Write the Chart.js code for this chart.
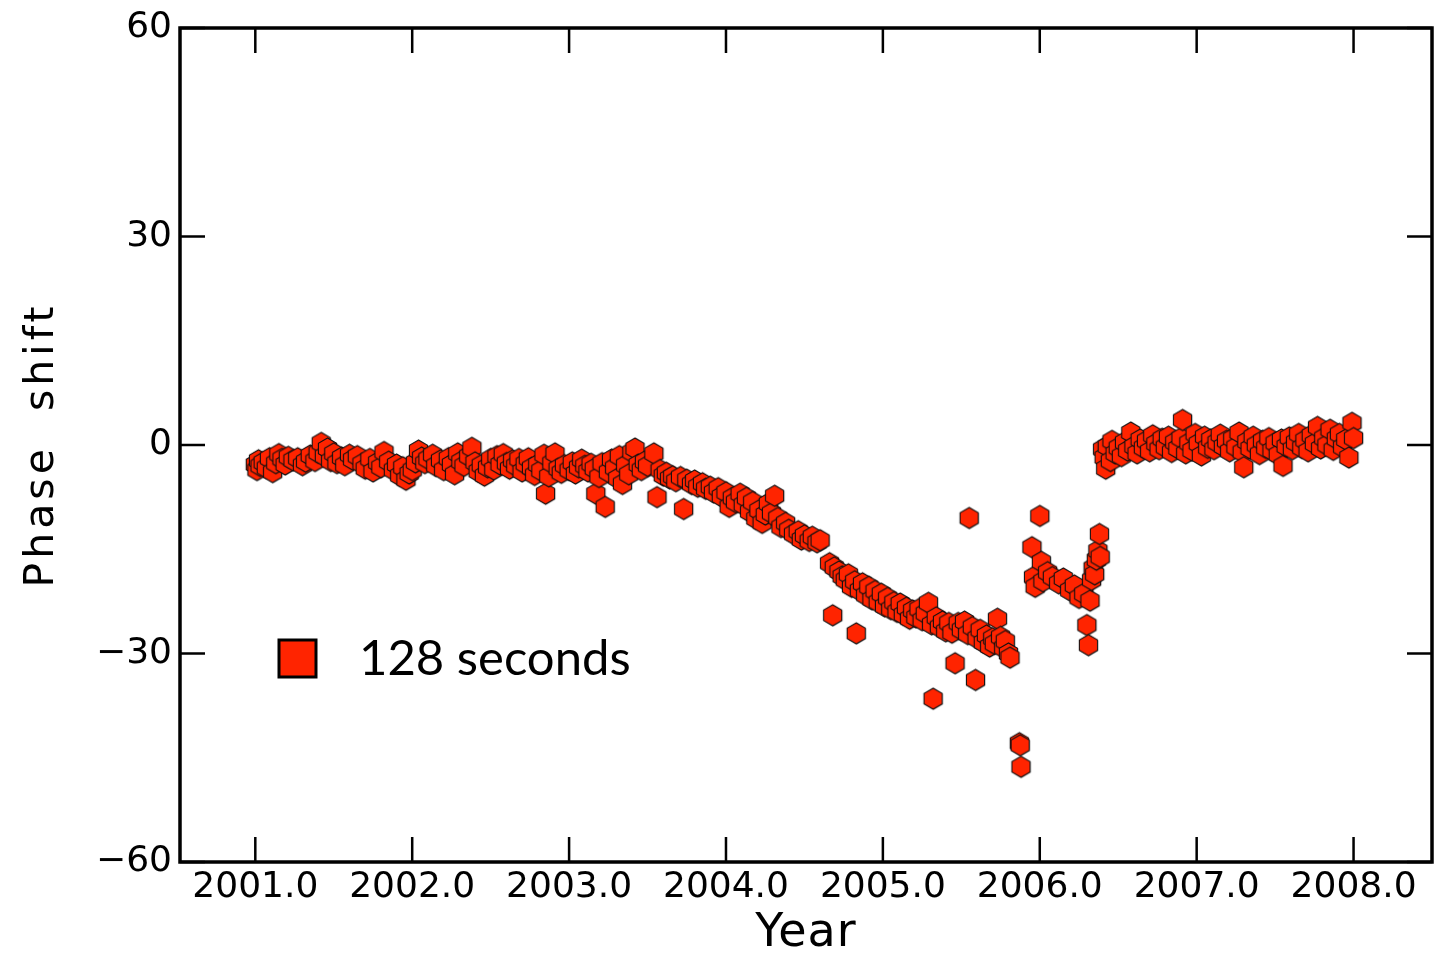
<!DOCTYPE html>
<html><head><meta charset="utf-8">
<script src="https://cdn.jsdelivr.net/npm/chart.js@4"></script>
<style>html,body{margin:0;padding:0;background:#fff;}canvas{display:block;}</style>
</head><body>
<canvas id="c" width="1437" height="955"></canvas>
<script>
const years = [
2001.00,2001.01,2001.02,2001.03,2001.05,2001.07,2001.09,2001.11,2001.13,2001.15,2001.17,2001.19,2001.21,2001.24,2001.27,2001.30,2001.32,2001.35,2001.38,2001.40,
2001.42,2001.44,2001.46,2001.48,2001.50,2001.52,2001.55,2001.57,2001.60,2001.62,2001.65,2001.68,2001.70,2001.73,2001.75,2001.78,2001.80,2001.82,2001.85,2001.88,
2001.90,2001.92,2001.94,2001.96,2001.98,2002.00,2002.02,2002.04,2002.06,2002.08,2002.10,2002.13,2002.15,2002.18,2002.20,2002.23,2002.25,2002.27,2002.29,2002.31,
2002.33,2002.36,2002.38,2002.40,2002.42,2002.44,2002.46,2002.48,2002.50,2002.52,2002.54,2002.56,2002.58,2002.60,2002.62,2002.64,2002.66,2002.68,2002.70,2002.72,
2002.74,2002.76,2002.78,2002.80,2002.82,2002.84,2002.85,2002.87,2002.89,2002.91,2002.93,2002.95,2002.97,2003.00,2003.02,2003.04,2003.06,2003.08,2003.10,2003.12,
2003.14,2003.16,2003.17,2003.19,2003.21,2003.23,2003.25,2003.27,2003.29,2003.31,2003.32,2003.34,2003.36,2003.38,2003.40,2003.42,2003.44,2003.46,2003.48,2003.50,
2003.54,2003.56,2003.58,2003.60,2003.62,2003.64,2003.66,2003.68,2003.71,2003.73,2003.75,2003.78,2003.80,2003.82,2003.85,2003.87,2003.90,2003.92,2003.95,2003.97,
2004.00,2004.02,2004.04,2004.06,2004.09,2004.11,2004.13,2004.15,2004.17,2004.19,2004.21,2004.23,2004.25,2004.27,2004.29,2004.31,2004.33,2004.35,2004.38,2004.40,
2004.43,2004.46,2004.48,2004.50,2004.53,2004.55,2004.58,2004.60,2004.66,2004.68,2004.69,2004.72,2004.74,2004.76,2004.78,2004.80,2004.82,2004.83,2004.85,2004.87,
2004.89,2004.91,2004.93,2004.95,2004.97,2004.99,2005.01,2005.03,2005.05,2005.07,2005.09,2005.11,2005.13,2005.15,2005.17,2005.19,2005.21,2005.23,2005.25,2005.27,
2005.29,2005.31,2005.32,2005.34,2005.36,2005.38,2005.40,2005.42,2005.44,2005.46,2005.48,2005.50,2005.52,2005.54,2005.55,2005.57,2005.59,2005.60,2005.62,2005.64,
2005.66,2005.68,2005.70,2005.71,2005.73,2005.75,2005.77,2005.78,2005.80,2005.81,2005.87,2005.875,2005.88,2005.95,2005.96,2005.97,2006.00,2006.01,2006.02,2006.05,
2006.08,2006.12,2006.15,2006.19,2006.22,2006.25,2006.28,2006.30,2006.31,2006.32,2006.33,2006.34,2006.35,2006.36,2006.37,2006.38,2006.385,2006.40,2006.41,2006.42,
2006.43,2006.45,2006.46,2006.48,2006.50,2006.52,2006.54,2006.56,2006.58,2006.60,2006.62,2006.64,2006.66,2006.68,2006.70,2006.72,2006.74,2006.76,2006.78,2006.80,
2006.82,2006.84,2006.86,2006.88,2006.90,2006.91,2006.93,2006.95,2006.97,2006.99,2007.01,2007.03,2007.05,2007.07,2007.09,2007.11,2007.13,2007.15,2007.17,2007.19,
2007.21,2007.23,2007.25,2007.27,2007.29,2007.30,2007.32,2007.34,2007.36,2007.38,2007.40,2007.42,2007.44,2007.46,2007.48,2007.50,2007.52,2007.54,2007.55,2007.57,
2007.59,2007.61,2007.63,2007.65,2007.67,2007.69,2007.71,2007.73,2007.75,2007.77,2007.79,2007.81,2007.83,2007.85,2007.87,2007.89,2007.91,2007.93,2007.95,2007.97,
2007.99,2008.00
];
const phase = [
-2.8,-3.6,-2.2,-3.0,-2.5,-3.3,-1.9,-3.9,-2.6,-1.3,-2.0,-2.8,-1.7,-2.2,-1.9,-2.9,-2.4,-1.5,-2.3,-1.1,
0.3,-1.6,-0.5,-2.3,-1.2,-2.6,-1.8,-2.9,-1.4,-2.1,-1.6,-2.7,-3.4,-2.0,-3.8,-2.5,-3.2,-1.0,-2.4,-3.6,
-2.8,-4.4,-3.2,-5.0,-4.1,-3.6,-2.5,-0.8,-1.8,-2.6,-2.0,-1.4,-3.0,-2.2,-3.6,-1.9,-2.8,-4.2,-1.2,-2.4,
-3.0,-1.6,-0.4,-2.5,-3.8,-2.9,-4.4,-3.2,-2.0,-3.5,-1.6,-2.8,-1.3,-2.6,-3.4,-2.2,-3.0,-2.0,-3.8,-2.7,
-1.9,-3.3,-4.3,-2.8,-3.7,-1.4,-7.0,-4.5,-2.6,-1.2,-3.4,-4.0,-2.9,-3.6,-2.5,-4.1,-3.2,-2.1,-3.0,-3.8,
-2.7,-3.4,-7.0,-4.6,-2.6,-8.9,-3.9,-2.1,-3.3,-4.8,-1.6,-5.6,-2.9,-4.2,-1.0,-0.5,-2.8,-3.6,-2.4,-3.0,
-1.2,-7.5,-3.6,-4.4,-4.0,-4.8,-4.5,-5.2,-4.6,-9.2,-5.0,-5.6,-5.1,-6.0,-5.5,-6.3,-6.0,-6.8,-6.2,-7.4,
-6.8,-8.9,-7.6,-8.2,-7.0,-8.6,-7.6,-9.6,-8.2,-10.6,-9.4,-11.2,-10.0,-8.4,-9.8,-7.3,-10.5,-11.8,-11.2,-12.2,
-12.8,-12.4,-13.6,-13.0,-13.8,-13.2,-14.0,-13.7,-17.0,-24.5,-17.6,-18.2,-18.9,-19.4,-18.6,-20.4,-19.6,-27.1,-20.9,-19.9,
-21.6,-20.4,-22.2,-21.0,-22.6,-21.4,-23.2,-22.0,-23.6,-22.6,-24.0,-22.8,-24.4,-23.4,-25.0,-23.8,-24.8,-23.6,-25.2,-24.2,
-22.7,-25.8,-36.5,-24.8,-26.2,-25.4,-26.8,-25.6,-27.0,-31.4,-25.6,-26.6,-25.4,-27.2,-10.5,-26.2,-33.8,-27.8,-26.6,-28.4,
-27.4,-29.0,-27.8,-28.6,-25.0,-27.6,-29.2,-28.2,-30.0,-30.6,-42.9,-43.2,-46.3,-14.7,-19.0,-20.4,-10.2,-16.8,-19.6,-18.3,
-19.0,-19.9,-19.2,-20.9,-20.2,-22.0,-21.4,-25.9,-28.8,-22.4,-19.4,-17.7,-18.6,-16.5,-15.2,-12.8,-16.1,-0.6,-1.8,-3.4,
-0.2,-2.3,0.6,-1.2,-0.4,-1.6,0.4,-0.8,1.8,-0.2,-1.2,0.8,-0.4,0.6,-0.9,1.4,0.2,-0.6,0.9,-0.3,
1.2,-1.0,0.4,-0.5,1.0,3.6,-1.2,0.3,-0.8,1.6,0.2,-1.5,1.2,-0.4,0.8,-0.6,0.4,1.5,-0.2,0.6,
-0.9,0.9,-0.3,1.8,-1.0,-3.2,0.5,-0.5,1.2,0.0,-1.3,0.6,-0.4,1.0,-0.8,0.3,-1.4,0.8,-3.0,-0.2,
1.1,-0.6,0.4,1.6,-0.4,0.7,-0.9,1.4,0.2,2.6,-0.5,1.0,0.0,2.2,-0.7,0.9,1.6,-0.3,0.8,-1.8,
3.2,1.0
];
const yearTicks = [2001, 2002, 2003, 2004, 2005, 2006, 2007, 2008];
const phaseTicks = [-60, -30, 0, 30, 60];
const seriesLabel = '128 seconds';

const RED = '#ff2400';

function hexImage(r, fill) {
  const s = Math.ceil(2 * r + 4);
  const c = document.createElement('canvas');
  c.width = s; c.height = s;
  const g = c.getContext('2d');
  const cx = s / 2, cy = s / 2;
  const path = (dx, dy) => {
    g.beginPath();
    for (let i = 0; i < 6; i++) {
      const a = Math.PI / 2 + i * Math.PI / 3;
      const x = cx + dx + r * Math.cos(a), y = cy + dy - r * Math.sin(a);
      if (i) g.lineTo(x, y); else g.moveTo(x, y);
    }
    g.closePath();
  };
  path(0.8, 0.8); g.fillStyle = 'rgba(0,0,0,0.25)'; g.fill();
  path(0, 0); g.fillStyle = fill; g.fill();
  g.lineWidth = 1.1; g.strokeStyle = '#111'; g.stroke();
  return c;
}
const hex = hexImage(10.5, RED);

const fmtY = v => v < 0 ? '\u2212' + Math.abs(v) : String(v);

const framePlugin = {
  id: 'frame',
  beforeDraw(chart) {
    const patch = (s, sp) => {
      if (s && !s.__ls) {
        const orig = s.drawTitle.bind(s);
        s.drawTitle = function () {
          const ctx = this.ctx; ctx.save(); ctx.letterSpacing = sp; orig(); ctx.restore();
        };
        s.__ls = true;
      }
    };
    patch(chart.scales.y, '4px');
    patch(chart.scales.x, '1px');
  },
  afterDraw(chart) {
    const {ctx, chartArea: a, scales: {x, y}} = chart;
    const tl = 25;
    ctx.save();
    ctx.strokeStyle = '#000';
    ctx.lineCap = 'butt';
    ctx.lineWidth = 2.5;
    ctx.beginPath();
    yearTicks.forEach(v => {
      const px = x.getPixelForValue(v);
      ctx.moveTo(px, a.bottom); ctx.lineTo(px, a.bottom - tl);
      ctx.moveTo(px, a.top); ctx.lineTo(px, a.top + tl);
    });
    phaseTicks.forEach(v => {
      const py = y.getPixelForValue(v);
      ctx.moveTo(a.left, py); ctx.lineTo(a.left + tl, py);
      ctx.moveTo(a.right, py); ctx.lineTo(a.right - tl, py);
    });
    ctx.stroke();
    ctx.lineWidth = 3.5;
    ctx.strokeRect(a.left, a.top, a.right - a.left, a.bottom - a.top);
    // legend
    const ds = chart.data.datasets[0];
    const bx = a.left + 99, by = a.top + 612, bs = 37;
    ctx.fillStyle = RED;
    ctx.fillRect(bx, by, bs, bs);
    ctx.lineWidth = 3;
    ctx.strokeStyle = '#000';
    ctx.strokeRect(bx, by, bs, bs);
    ctx.fillStyle = '#000';
    ctx.font = '49px Lato, "Open Sans", sans-serif';
    ctx.textBaseline = 'middle';
    ctx.textAlign = 'left';
    ctx.fillText(ds.label, a.left + 179, by + bs / 2 + 1);
    ctx.restore();
  }
};

new Chart(document.getElementById('c'), {
  type: 'scatter',
  data: {
    datasets: [{
      label: seriesLabel,
      data: years.map((t, i) => ({x: t, y: phase[i]})),
      pointStyle: hex,
      pointRadius: 10,
      pointHoverRadius: 10,
      backgroundColor: RED,
      borderColor: '#000'
    }]
  },
  options: {
    responsive: false,
    animation: false,
    events: [],
    layout: {autoPadding: false, padding: {left: 0, right: 5, top: 28, bottom: 0}},
    plugins: {legend: {display: false}, tooltip: {enabled: false}},
    scales: {
      x: {
        type: 'linear', position: 'bottom', min: 2000.52, max: 2008.5,
        afterBuildTicks: s => { s.ticks = yearTicks.map(v => ({value: v})); },
        afterFit: s => { s.height = 93; s.paddingLeft = 0; s.paddingRight = 0; },
        ticks: {callback: v => v.toFixed(1), font: {family: 'DejaVu Sans', size: 36}, color: '#000', padding: 4, maxRotation: 0, autoSkip: false},
        grid: {display: false, drawTicks: false},
        border: {display: false},
        title: {display: true, text: 'Year', font: {family: 'DejaVu Sans', size: 46, lineHeight: 0.92}, color: '#000', padding: {top: 0, bottom: 0}}
      },
      y: {
        type: 'linear', position: 'left', min: -60, max: 60,
        afterBuildTicks: s => { s.ticks = phaseTicks.map(v => ({value: v})); },
        afterFit: s => { s.width = 180; s.paddingTop = 0; s.paddingBottom = 0; },
        ticks: {callback: fmtY, font: {family: 'DejaVu Sans', size: 36}, color: '#000', padding: 8},
        grid: {display: false, drawTicks: false},
        border: {display: false},
        title: {display: true, text: 'Phase  shift', font: {family: 'DejaVu Sans', size: 41}, color: '#000', padding: {top: 18, bottom: 0}}
      }
    }
  },
  plugins: [framePlugin]
});
</script>
</body></html>
